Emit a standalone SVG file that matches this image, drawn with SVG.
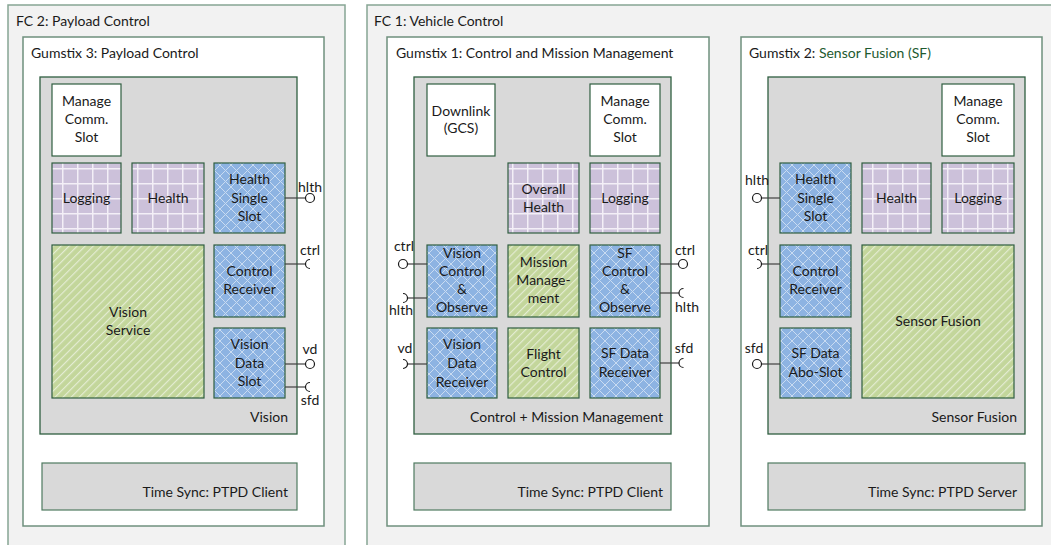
<svg xmlns="http://www.w3.org/2000/svg" width="1051" height="545" viewBox="0 0 1051 545">
<style>
text{font-family:Lato,"Liberation Sans",sans-serif;font-size:14px;fill:#1a1a1a}
.c{text-anchor:middle}
.r{text-anchor:end}
.fc{fill:#f2f2f2;stroke:#86a594;stroke-width:1.5}
.gx{fill:#ffffff;stroke:#6f907e;stroke-width:1.5}
.grp{fill:#d9d9d9;stroke:#2f5e40;stroke-width:1.3}
.ts{fill:#d9d9d9;stroke:#4f7a60;stroke-width:1.2}
.wh{fill:#ffffff;stroke:#2f5e40;stroke-width:1.2}
.pu{fill:url(#pGrid);stroke:#2f5e40;stroke-width:1.2}
.bl{fill:url(#pHatch);stroke:#2f5e40;stroke-width:1.2}
.gr{fill:url(#pStripe);stroke:#2f5e40;stroke-width:1.2}
.ln{stroke:#404040;stroke-width:1.2;fill:none}
.ball{fill:#ffffff;stroke:#1a1a1a;stroke-width:1.2}
.sock{fill:none;stroke:#1a1a1a;stroke-width:1.2}
</style>
<defs>
<pattern id="pGrid" width="15" height="15" patternUnits="userSpaceOnUse" x="2" y="3">
<rect width="15" height="15" fill="#ccc1da"/>
<path d="M0,0.75H15M0.75,0V15" stroke="#f3eff7" stroke-width="1.5"/>
</pattern>
<pattern id="pHatch" width="11" height="11" patternUnits="userSpaceOnUse">
<rect width="11" height="11" fill="#8db3e2"/>
<path d="M0,0L11,11M11,0L0,11" stroke="#c9dbf1" stroke-width="1"/>
</pattern>
<pattern id="pStripe" width="5.7" height="5.7" patternUnits="userSpaceOnUse" patternTransform="rotate(45)">
<rect width="5.7" height="5.7" fill="#c3d69b"/>
<line x1="0.6" y1="0" x2="0.6" y2="5.7" stroke="#e6eed6" stroke-width="1.1"/>
</pattern>
</defs>
<rect width="1051" height="545" fill="#ffffff"/>

<!-- FC 2 -->
<g id="fc2">
<rect class="fc" x="8" y="5" width="337" height="560"/>
<text x="16" y="26">FC 2: Payload Control</text>
</g>
<g id="gumstix3">
<rect class="gx" x="23" y="37" width="301" height="489"/>
<text x="31" y="58">Gumstix 3: Payload Control</text>
</g>
<g id="vision">
<rect class="grp" x="40" y="77" width="257" height="357"/>
<text class="r" x="288" y="422">Vision</text>
</g>
<g id="g3-manage"><rect class="wh" x="52" y="84" width="69" height="72"/>
<text class="c" x="86.5" y="106">Manage</text><text class="c" x="86.5" y="124">Comm.</text><text class="c" x="86.5" y="142">Slot</text></g>
<g id="g3-logging"><rect class="pu" x="52" y="163" width="69" height="70"/>
<text class="c" x="86.5" y="203">Logging</text></g>
<g id="g3-health"><rect class="pu" x="132" y="163" width="72" height="70"/>
<text class="c" x="168" y="203">Health</text></g>
<g id="g3-hss"><rect class="bl" x="214" y="163" width="71" height="70"/>
<text class="c" x="249.5" y="184">Health</text><text class="c" x="249.5" y="203">Single</text><text class="c" x="249.5" y="221">Slot</text></g>
<g id="g3-vision-service"><rect class="gr" x="52" y="245" width="152" height="153"/>
<text class="c" x="128" y="317">Vision</text><text class="c" x="128" y="335">Service</text></g>
<g id="g3-control-receiver"><rect class="bl" x="214" y="245" width="71" height="72"/>
<text class="c" x="249.5" y="276">Control</text><text class="c" x="249.5" y="294">Receiver</text></g>
<g id="g3-vds"><rect class="bl" x="214" y="328" width="71" height="70"/>
<text class="c" x="249.5" y="349">Vision</text><text class="c" x="249.5" y="368">Data</text><text class="c" x="249.5" y="386">Slot</text></g>
<g id="g3-timesync"><rect class="ts" x="42" y="463" width="255" height="47"/>
<text class="r" x="288" y="497">Time Sync: PTPD Client</text></g>

<!-- FC 1 -->
<g id="fc1">
<rect class="fc" x="367" y="5" width="700" height="560"/>
<text x="374" y="26">FC 1: Vehicle Control</text>
</g>
<g id="gumstix1">
<rect class="gx" x="387" y="37" width="322" height="489"/>
<text x="396" y="58">Gumstix 1: Control and Mission Management</text>
</g>
<g id="cmm">
<rect class="grp" x="414" y="77" width="257" height="357"/>
<text class="r" x="663" y="422">Control + Mission Management</text>
</g>
<g id="g1-downlink"><rect class="wh" x="427" y="84" width="68" height="72"/>
<text class="c" x="461" y="116">Downlink</text><text class="c" x="461" y="133">(GCS)</text></g>
<g id="g1-manage"><rect class="wh" x="590" y="84" width="70" height="72"/>
<text class="c" x="625" y="106">Manage</text><text class="c" x="625" y="124">Comm.</text><text class="c" x="625" y="142">Slot</text></g>
<g id="g1-overall-health"><rect class="pu" x="508" y="163" width="71" height="70"/>
<text class="c" x="543.5" y="194">Overall</text><text class="c" x="543.5" y="212">Health</text></g>
<g id="g1-logging"><rect class="pu" x="590" y="163" width="70" height="70"/>
<text class="c" x="625" y="203">Logging</text></g>
<g id="g1-vco"><rect class="bl" x="427" y="245" width="70" height="72"/>
<text class="c" x="462" y="258">Vision</text><text class="c" x="462" y="276">Control</text><text class="c" x="462" y="294">&amp;</text><text class="c" x="462" y="312">Observe</text></g>
<g id="g1-mission"><rect class="gr" x="508" y="245" width="71" height="72"/>
<text class="c" x="543.5" y="267">Mission</text><text class="c" x="543.5" y="285">Manage-</text><text class="c" x="543.5" y="303">ment</text></g>
<g id="g1-sfco"><rect class="bl" x="590" y="245" width="70" height="72"/>
<text class="c" x="625" y="258">SF</text><text class="c" x="625" y="276">Control</text><text class="c" x="625" y="294">&amp;</text><text class="c" x="625" y="312">Observe</text></g>
<g id="g1-vdr"><rect class="bl" x="427" y="328" width="70" height="70"/>
<text class="c" x="462" y="349">Vision</text><text class="c" x="462" y="368">Data</text><text class="c" x="462" y="387">Receiver</text></g>
<g id="g1-flight"><rect class="gr" x="508" y="328" width="71" height="70"/>
<text class="c" x="543.5" y="359">Flight</text><text class="c" x="543.5" y="377">Control</text></g>
<g id="g1-sfdr"><rect class="bl" x="590" y="328" width="70" height="70"/>
<text class="c" x="625" y="358">SF Data</text><text class="c" x="625" y="377">Receiver</text></g>
<g id="g1-timesync"><rect class="ts" x="414" y="463" width="257" height="47"/>
<text class="r" x="663" y="497">Time Sync: PTPD Client</text></g>

<g id="gumstix2">
<rect class="gx" x="741" y="37" width="301" height="489"/>
<text x="749" y="58">Gumstix 2: <tspan fill="#1e5a30">Sensor Fusion (SF)</tspan></text>
</g>
<g id="sf">
<rect class="grp" x="768" y="77" width="257" height="357"/>
<text class="r" x="1017" y="422">Sensor Fusion</text>
</g>
<g id="g2-manage"><rect class="wh" x="942" y="84" width="72" height="72"/>
<text class="c" x="978" y="106">Manage</text><text class="c" x="978" y="124">Comm.</text><text class="c" x="978" y="142">Slot</text></g>
<g id="g2-hss"><rect class="bl" x="780" y="163" width="71" height="70"/>
<text class="c" x="815.5" y="184">Health</text><text class="c" x="815.5" y="203">Single</text><text class="c" x="815.5" y="221">Slot</text></g>
<g id="g2-health"><rect class="pu" x="862" y="163" width="69" height="70"/>
<text class="c" x="896.5" y="203">Health</text></g>
<g id="g2-logging"><rect class="pu" x="942" y="163" width="72" height="70"/>
<text class="c" x="978" y="203">Logging</text></g>
<g id="g2-control-receiver"><rect class="bl" x="780" y="245" width="71" height="72"/>
<text class="c" x="815.5" y="276">Control</text><text class="c" x="815.5" y="294">Receiver</text></g>
<g id="g2-sensor-fusion"><rect class="gr" x="862" y="245" width="152" height="153"/>
<text class="c" x="938" y="326">Sensor Fusion</text></g>
<g id="g2-sfdabo"><rect class="bl" x="780" y="328" width="71" height="70"/>
<text class="c" x="815.5" y="358">SF Data</text><text class="c" x="815.5" y="377">Abo-Slot</text></g>
<g id="g2-timesync"><rect class="ts" x="768" y="463" width="257" height="47"/>
<text class="r" x="1017" y="497">Time Sync: PTPD Server</text></g>

<!-- connectors / interfaces -->
<g id="connectors">
<!-- Gumstix 3 -->
<line class="ln" x1="285" y1="198" x2="306" y2="198"/><circle class="ball" cx="310" cy="198" r="4.5"/>
<text class="c" x="310" y="192">hlth</text>
<line class="ln" x1="285" y1="264" x2="306" y2="264"/><path class="sock" d="M310,259.5A4.5,4.5 0 0 0 310,268.5"/>
<text class="c" x="310" y="255">ctrl</text>
<line class="ln" x1="285" y1="364" x2="306" y2="364"/><circle class="ball" cx="310" cy="364" r="4.5"/>
<text class="c" x="310" y="354">vd</text>
<line class="ln" x1="285" y1="387" x2="306" y2="387"/><path class="sock" d="M310,382.5A4.5,4.5 0 0 0 310,391.5"/>
<text class="c" x="310" y="405">sfd</text>
<!-- Gumstix 1 left -->
<line class="ln" x1="407.5" y1="264" x2="427" y2="264"/><circle class="ball" cx="403" cy="264" r="4.5"/>
<text class="c" x="404" y="251">ctrl</text>
<line class="ln" x1="407.5" y1="298" x2="427" y2="298"/><path class="sock" d="M403,293.5A4.5,4.5 0 0 1 403,302.5"/>
<text class="c" x="401" y="315">hlth</text>
<line class="ln" x1="407.5" y1="364" x2="427" y2="364"/><path class="sock" d="M403,359.5A4.5,4.5 0 0 1 403,368.5"/>
<text class="c" x="405" y="353">vd</text>
<!-- Gumstix 1 right -->
<line class="ln" x1="660" y1="264" x2="679" y2="264"/><circle class="ball" cx="683" cy="264" r="4.5"/>
<text class="c" x="685" y="255">ctrl</text>
<line class="ln" x1="660" y1="293" x2="679" y2="293"/><path class="sock" d="M683.5,288.5A4.5,4.5 0 0 0 683.5,297.5"/>
<text class="c" x="687" y="312">hlth</text>
<line class="ln" x1="660" y1="363" x2="679" y2="363"/><path class="sock" d="M683.5,358.5A4.5,4.5 0 0 0 683.5,367.5"/>
<text class="c" x="684" y="353">sfd</text>
<!-- Gumstix 2 -->
<line class="ln" x1="761.5" y1="198" x2="780" y2="198"/><circle class="ball" cx="757" cy="198" r="4.5"/>
<text class="c" x="757" y="185">hlth</text>
<line class="ln" x1="761.5" y1="264" x2="780" y2="264"/><path class="sock" d="M757,259.5A4.5,4.5 0 0 1 757,268.5"/>
<text class="c" x="758" y="255">ctrl</text>
<line class="ln" x1="761.5" y1="364" x2="780" y2="364"/><circle class="ball" cx="757" cy="364" r="4.5"/>
<text class="c" x="754" y="353">sfd</text>
</g>
</svg>
